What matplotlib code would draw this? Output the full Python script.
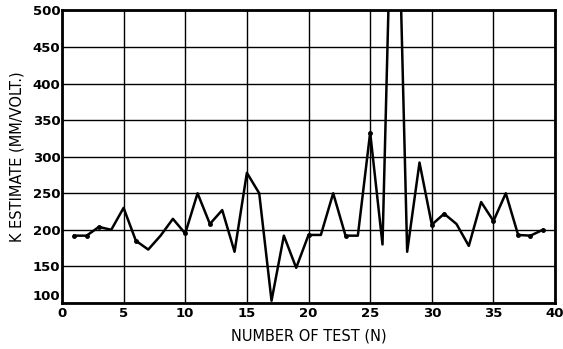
import matplotlib
matplotlib.use("Agg")
import matplotlib.pyplot as plt

test_no = list(range(1, 40))
k_estimate = [192, 192, 204, 200, 230, 185, 173, 192, 215, 195,
              250, 208, 227, 170, 278, 250, 103, 192, 148, 193,
              193, 250, 192, 192, 333, 180, 850, 170, 292, 207,
              222, 208, 178, 238, 212, 250, 193, 192, 200]
marked = [1, 2, 3, 6, 10, 12, 20, 23, 25, 30, 31, 35, 37, 38, 39]

x_ticks = [0, 5, 10, 15, 20, 25, 30, 35, 40]
y_ticks = [100, 150, 200, 250, 300, 350, 400, 450, 500]

plt.rcParams['font.family'] = 'DejaVu Sans'
fig = plt.figure(figsize=(5.63, 3.49), dpi=100)
ax = fig.add_axes([0.110, 0.132, 0.876, 0.838])

ax.plot(test_no, k_estimate, color='black', lw=1.8)
ax.plot(marked, [k_estimate[i - 1] for i in marked], 'o', color='black', ms=2.5)

ax.set_xlim(0, 40)
ax.set_ylim(100, 500)
ax.set_xticks(x_ticks)
ax.set_yticks(y_ticks)
ax.grid(True, color='black', lw=1.0)
ax.set_axisbelow(True)
ax.tick_params(axis='x', length=0, pad=3, labelsize=9.5)
ax.tick_params(axis='y', length=0, pad=1, labelsize=9.5)
for lbl in ax.get_xticklabels() + ax.get_yticklabels():
    lbl.set_fontweight('bold')
# nudge the "100" label up so it clears the "0" at the corner
ax.get_yticklabels()[0].set_verticalalignment('bottom')

for s in ax.spines.values():
    s.set_linewidth(2)

ax.set_xlabel('NUMBER OF TEST (N)', fontsize=10.5, labelpad=6)
ax.set_ylabel('K ESTIMATE (MM/VOLT.)', fontsize=10.5, labelpad=6)

fig.savefig('out.png', dpi=100)
